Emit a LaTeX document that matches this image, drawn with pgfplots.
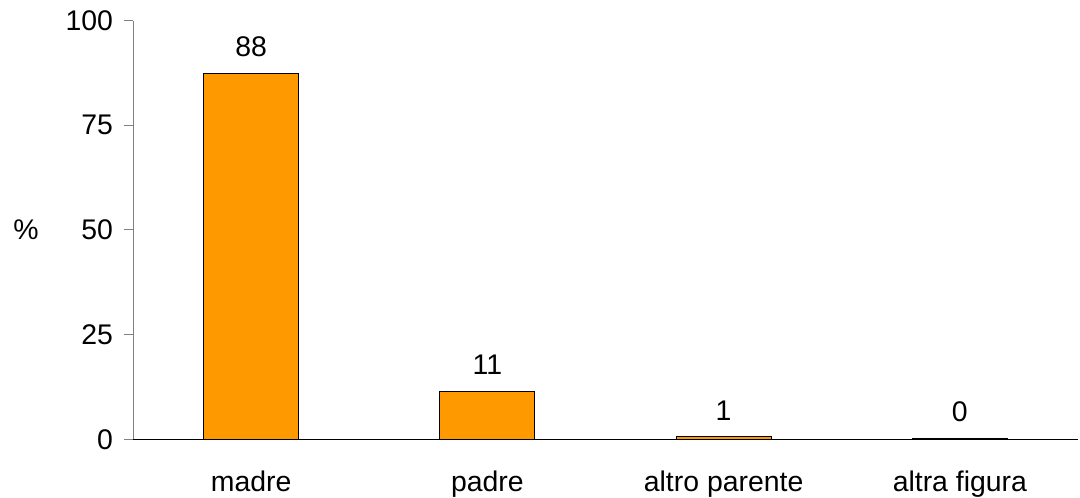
\documentclass[border=0pt]{standalone}
\usepackage{fontspec}
\setmainfont{Liberation Sans}
\usepackage{pgfplots}
\pgfplotsset{compat=1.18}
\definecolor{barorange}{HTML}{FF9900}
\definecolor{axgray}{HTML}{808080}
\begin{document}
\begin{tikzpicture}
\useasboundingbox (0,0) rectangle (540bp,249bp);
\begin{axis}[
  at={(66.5bp,29.35bp)}, anchor=south west,
  scale only axis,
  width=472.5bp, height=209.3bp,
  xmin=-0.5, xmax=3.5,
  ymin=0, ymax=100,
  ytick={0,25,50,75,100},
  xtick={0,1,2,3},
  xticklabels={madre,padre,altro parente,altra figura},
  axis x line*=bottom,
  axis y line*=left,
  x axis line style={black, -},
  y axis line style={axgray, -},
  xtick style={draw=none},
  ytick style={axgray, line width=0.5pt},
  tick align=outside,
  major tick length=4.5bp,
  font=\fontsize{14.2bp}{17bp}\selectfont,
  /pgf/number format/assume math mode=true,
  yticklabel style={xshift=-2bp},
  xticklabel style={yshift=-8bp},
  ylabel={\%},
  ylabel style={rotate=-90, font=\fontsize{8.4bp}{10bp}\selectfont},
  every axis y label/.style={at={(rel axis cs:0,0.5)}, xshift=-53.5bp, anchor=center},
  ybar, bar width=47.6bp,
  nodes near coords,
  point meta=explicit symbolic,
  every node near coord/.append style={anchor=center, yshift=13bp, font=\fontsize{14.2bp}{17bp}\selectfont, black},
  clip=false,
]
\addplot[fill=barorange, draw=black, line width=0.5pt] coordinates {
  (0,87.5) [88]
  (1,11.5) [11]
  (2,0.6) [1]
  (3,0.3) [0]
};
\end{axis}
\end{tikzpicture}
\end{document}
